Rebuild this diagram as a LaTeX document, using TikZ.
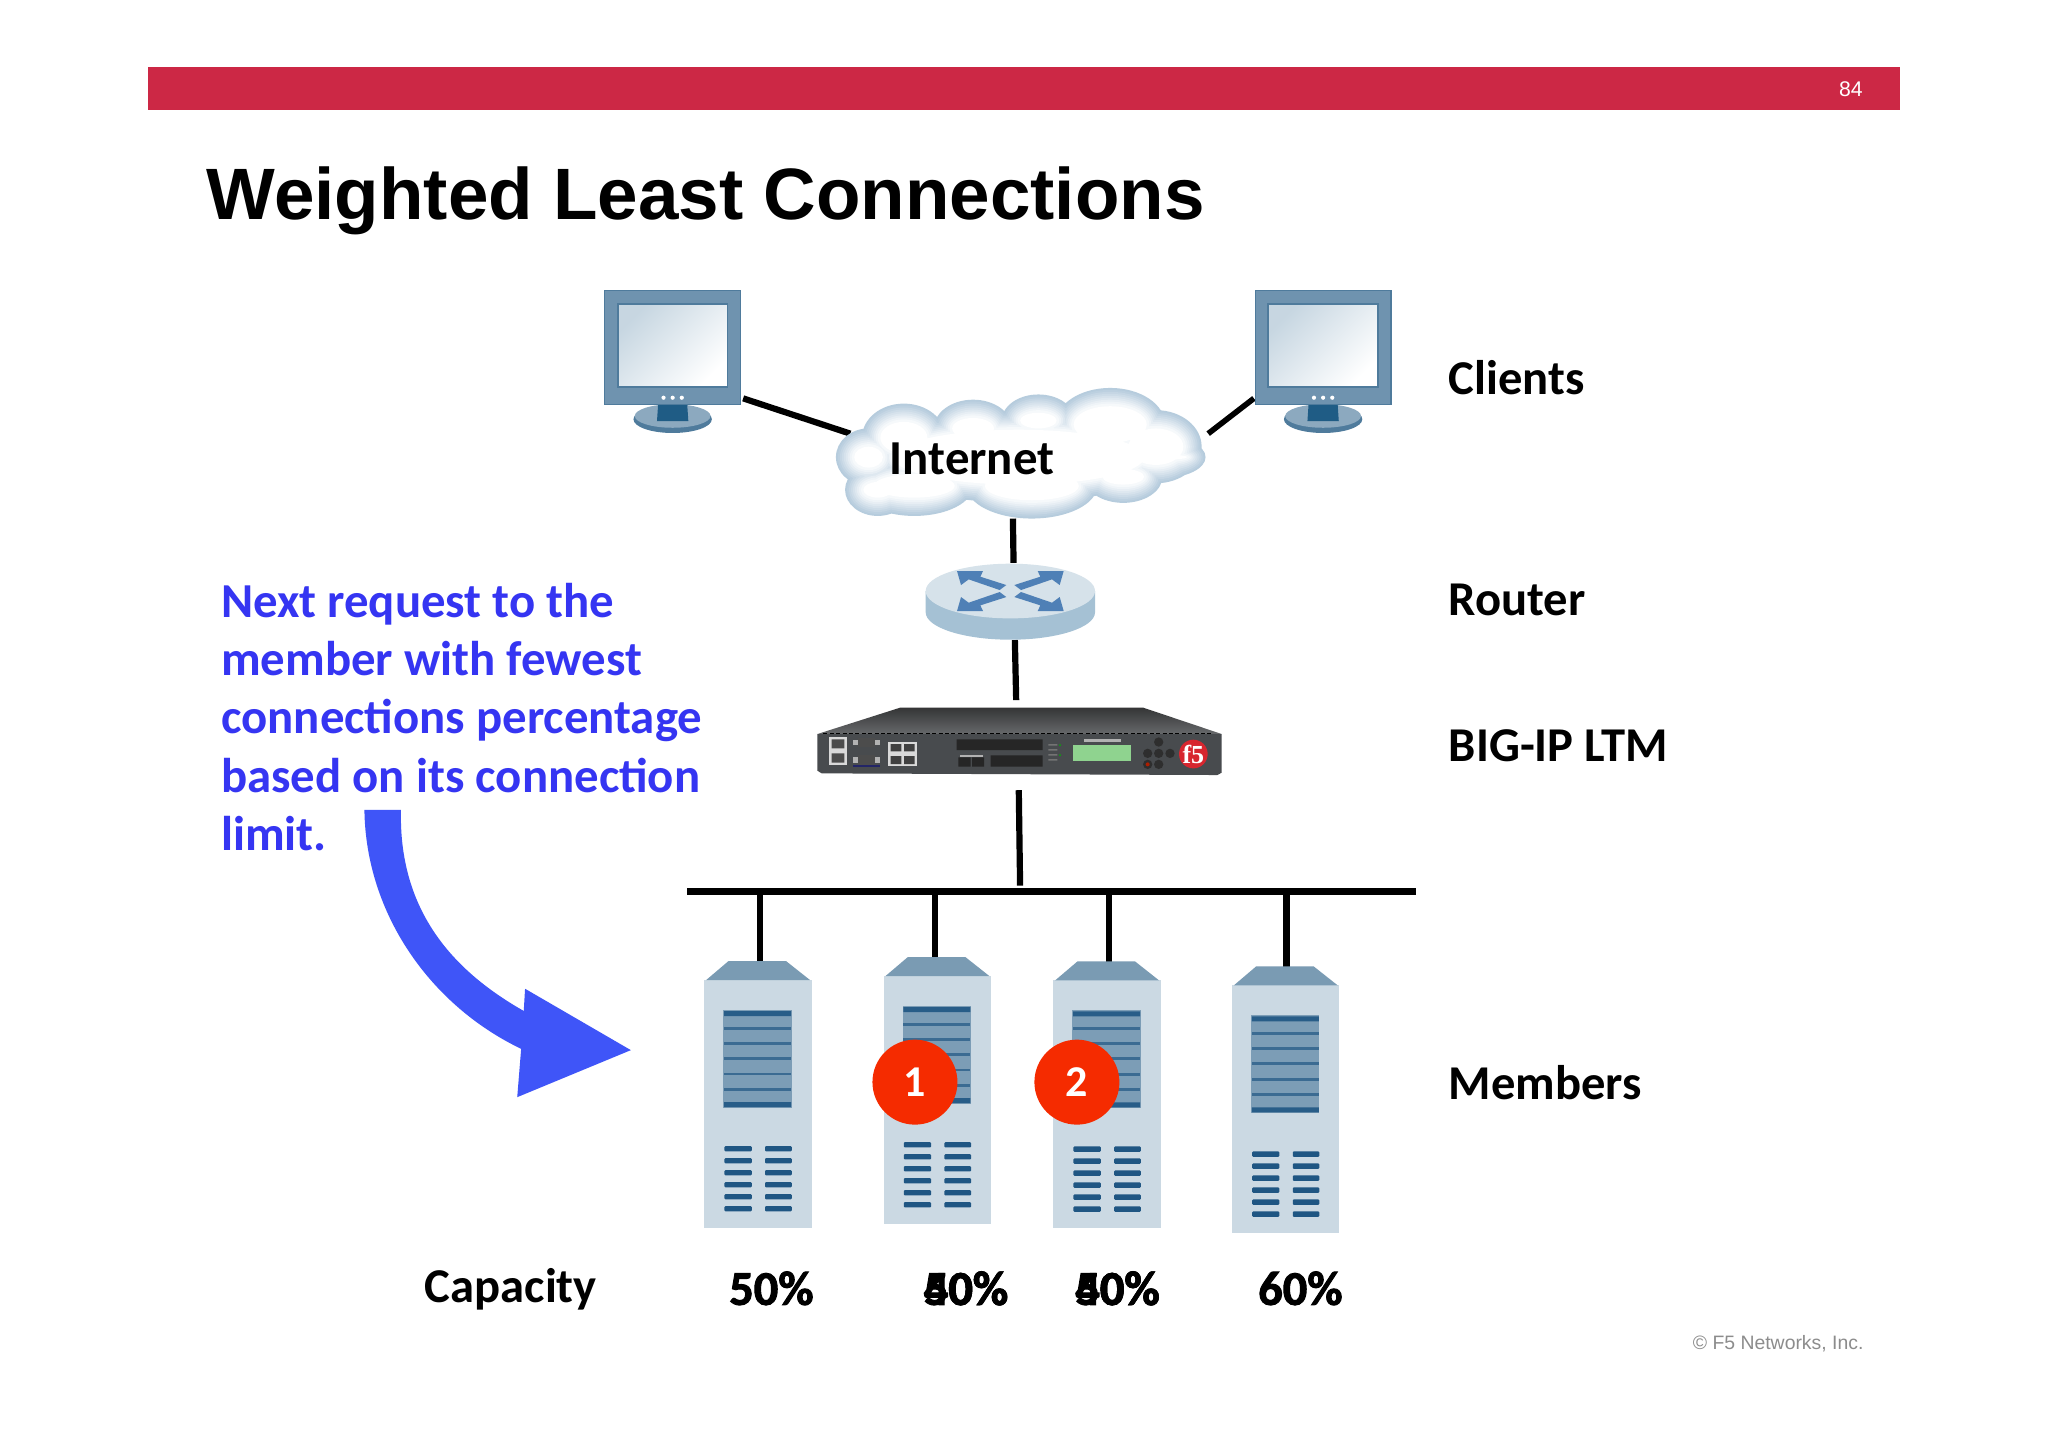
\documentclass[tikz,border=0pt]{standalone}
\usepackage{fontspec}
\setmainfont{Carlito}
\newfontfamily\arialfont{Liberation Sans}
\newfontfamily\logofont{Liberation Serif}
\newfontfamily\pctfont[BoldFeatures={FakeBold=2}]{Carlito}
\usetikzlibrary{shadings}
\definecolor{barred}{HTML}{CC2845}
\definecolor{bluetxt}{HTML}{3535F2}
\definecolor{bluearrow}{HTML}{3F55F8}
\definecolor{badge}{HTML}{F52B00}
\definecolor{srvbody}{HTML}{CBD9E3}
\definecolor{srvroof}{HTML}{7A9BB3}
\definecolor{srvpanel}{HTML}{7C9DB6}
\definecolor{srvdark}{HTML}{1F5683}
\definecolor{monframe}{HTML}{6F93AF}
\definecolor{monedge}{HTML}{4F7B9C}
\definecolor{monneck}{HTML}{1F5C85}
\definecolor{rtop}{HTML}{D6E2EA}
\definecolor{rside}{HTML}{A5C1D4}
\definecolor{rarrow}{HTML}{4F80B6}
\definecolor{devtop}{HTML}{5F6163}
\definecolor{devfront}{HTML}{484B4E}
\definecolor{cloudedge}{HTML}{A9C3D7}
\definecolor{lcdgreen}{HTML}{8FD38F}
\definecolor{logored}{HTML}{D7262F}
\tikzset{
  wire/.style={line width=3.1pt,black},
  label/.style={font=\fontsize{24.3}{28}\selectfont\bfseries,anchor=base west,inner sep=0pt},
  pct/.style={font=\pctfont\bfseries\fontsize{24.2}{28}\selectfont,anchor=base west,inner sep=0pt},
  numbadge/.style={circle,fill=badge,text=white,minimum size=42.5pt,inner sep=0pt,font=\fontsize{22}{25}\selectfont\bfseries},
  srvbar/.style={fill=srvdark,rounded corners=0.5pt},
}
\newcommand{\monitorshape}[3]{% x, y, screen-x offset
  \begin{scope}[shift={(#1,#2)}]
    \fill[monedge] (52,98.5) ellipse (30 and 10.5);
    \fill[rtop!45!monedge] (52,96) ellipse (29 and 9);
    \fill[monneck] (41,85) -- (63,85) -- (64,100) -- (40,100) -- cycle;
    \fill[monframe,draw=monedge,line width=0.7pt] (0,0) rectangle (104,87);
    \shade[shading=axis,left color=rtop!85!monframe,right color=white,shading angle=45,draw=monedge,line width=0.9pt] (#3,10) rectangle (#3+84,74);
    \fill[white] (45,82) circle (1.6) (52,82) circle (1.6) (59,82) circle (1.6);
  \end{scope}}
\newcommand{\serverico}[2]{% zoom-space offset
  \begin{scope}[shift={(520.7,712.1)},scale=0.2552,shift={(#1,#2)}]
    \fill[srvbody] (73,150) rectangle (395,893);
    \fill[srvroof] (78,150) -- (145,93) -- (318,93) -- (390,150) -- cycle;
    \fill[srvpanel] (130,240) rectangle (335,533);
    \fill[srvdark!90!srvpanel] (132,243) rectangle (333,258) (132,516) rectangle (333,531);
    \foreach \yy in {295,340,385,432,478} \fill[srvdark!70!srvpanel] (132,\yy-4) rectangle (333,\yy+4);
    \foreach \yy in {656,692,728,764,800,836} {
      \fill[srvbar] (133,\yy-8) rectangle (215,\yy+8);
      \fill[srvbar] (255,\yy-8) rectangle (335,\yy+8);
    }
  \end{scope}}
\newcommand{\cloudlayer}[2]{% inset, colour
  \fill[#2]
    (692,335) ellipse ({32-#1} and {26-#1})
    (745,328) ellipse ({30-#1} and {22-#1})
    (795,322) ellipse ({28-#1} and {20-#1})
    (850,325) ellipse ({42-#1} and {28-#1})
    (885,342) ellipse ({35-#1} and {28-#1})
    (890,350) ellipse ({33-#1} and {16-#1})
    (860,365) ellipse ({30-#1} and {20-#1})
    (790,372) ellipse ({50-#1} and {25-#1})
    (700,372) ellipse ({45-#1} and {23-#1})
    (665,350) ellipse ({25-#1} and {22-#1})
    (672,375) ellipse ({25-#1} and {20-#1})
    (780,350) ellipse ({110-#1} and {35-#1});}
\begin{document}
\begin{tikzpicture}[x=0.65306pt,y=-0.65306pt]
\useasboundingbox (0,0) rectangle (1568,1108);
\fill[white] (0,0) rectangle (1568,1108);
% header
\fill[barred] (113,51) rectangle (1455,84.5);
\node[font=\arialfont\fontsize{10.6}{13}\selectfont,text=white,inner sep=0pt] (pageno) at (1417,68.5) {84};
\node[font=\arialfont\bfseries\fontsize{36.4}{40}\selectfont,anchor=base west,inner sep=0pt] (title) at (158,168) {Weighted Least Connections};
\node[font=\arialfont\fontsize{9.7}{12}\selectfont,text=black!45,anchor=base east,inner sep=0pt] (copy) at (1427,1033) {© F5 Networks, Inc.};
% connector ends
\coordinate (clientA) at (569,305); \coordinate (cloudA) at (651,332);
\coordinate (clientB) at (960,305); \coordinate (cloudB) at (925,332);
\coordinate (cloudS) at (775.5,397); \coordinate (routerN) at (776,431);
\coordinate (routerS) at (777,490); \coordinate (ltmN) at (778,536);
\coordinate (ltmS) at (780,605); \coordinate (busJ) at (781,678);
\coordinate (busW) at (526,682.5); \coordinate (busE) at (1084,682.5);
\coordinate (d1a) at (582,685); \coordinate (d1b) at (582,736);
\coordinate (d2a) at (716,685); \coordinate (d2b) at (716,733);
\coordinate (d3a) at (849,685); \coordinate (d3b) at (849,737);
\coordinate (d4a) at (985,685); \coordinate (d4b) at (985,740);
\draw[wire] (clientA) -- (cloudA);
\draw[wire,line width=2.8pt] (clientB) -- (cloudB);
\draw[wire] (cloudS) -- (routerN);
\draw[wire] (routerS) -- (ltmN);
\draw[wire] (ltmS) -- (busJ);
\draw[wire] (busW) -- (busE);
\draw[wire] (d1a) -- (d1b);
\draw[wire] (d2a) -- (d2b);
\draw[wire] (d3a) -- (d3b);
\draw[wire] (d4a) -- (d4b);
% monitors
\monitorshape{463}{222.5}{10}
\monitorshape{961}{222.5}{10}
% cloud
\cloudlayer{0}{cloudedge!85!white}
\cloudlayer{1.5}{cloudedge!78!white}
\cloudlayer{3}{cloudedge!68!white}
\cloudlayer{4.5}{cloudedge!58!white}
\cloudlayer{6}{cloudedge!48!white}
\cloudlayer{7.5}{cloudedge!38!white}
\cloudlayer{9}{cloudedge!28!white}
\cloudlayer{10.5}{cloudedge!18!white}
\cloudlayer{12}{cloudedge!10!white}
\cloudlayer{14}{white}
\node[font=\fontsize{24.4}{28}\selectfont\bfseries,anchor=base west,inner sep=0pt] (internet) at (681,363) {Internet};
% router
\begin{scope}[shift={(597.2,405.8)},scale=0.2552]
  \fill[rside] (437,183) -- (437,247) arc[start angle=180,end angle=0,x radius=254,y radius=82] -- (945,183) -- cycle;
  \fill[rtop] (691,183) ellipse (254 and 82);
  \begin{scope}[shift={(691,183)}]
    \foreach \sx/\sy in {1/1,-1/1,1/-1,-1/-1}
      \fill[rarrow,xscale=\sx,yscale=\sy] (-160,-60) -- (-82,-60) -- (-90,-43) -- (-12,-18) -- (-32,-3) -- (-125,-35) -- (-148,-18) -- cycle;
  \end{scope}
\end{scope}
% BIG-IP LTM
\begin{scope}[shift={(597.2,405.8)},scale=0.2552]
  \shade[top color=devtop!55!black,bottom color=devtop!95!white] (112,612) -- (360,533) -- (1090,533) -- (1325,612) -- cycle;
  \fill[devfront] (112,612) -- (1325,612) -- (1325,728) -- (1312,735) -- (125,730) -- (112,722) -- cycle;
  \draw[black,line width=0.5pt,dash pattern=on 2pt off 1.2pt] (130,611) -- (1300,611);
  % jacks
  \fill[white!85!black] (148,622) rectangle (200,705);
  \fill[black!70] (155,628) rectangle (193,655) (155,670) rectangle (193,698);
  % serial ports
  \foreach \yy in {637,690} {
    \fill[black!30] (218,\yy-8) rectangle (300,\yy+8);
    \fill[black!70] (235,\yy-14) rectangle (285,\yy+14);
  }
  \fill[blue!50!black,opacity=.5] (220,706) rectangle (300,712);
  % quad ports
  \fill[white!85!black] (325,635) rectangle (410,708);
  \fill[black!75] (332,642) rectangle (364,664) (372,642) rectangle (404,664) (332,678) rectangle (364,702) (372,678) rectangle (404,702);
  % grilles
  \fill[black!85] (530,628) rectangle (788,660) (632,676) rectangle (788,710);
  \fill[black!85] (535,682) rectangle (572,710) (576,682) rectangle (612,710);
  \fill[black!30] (540,676) rectangle (608,681);
  % LEDs
  \fill[green!70!black] (840,645) circle (3) (840,675) circle (3);
  \fill[black!55] (805,642) rectangle (832,647) (805,657) rectangle (832,662) (805,672) rectangle (832,677) (805,687) rectangle (832,692);
  % LCD
  \fill[black!30] (912,628) rectangle (1024,636);
  \fill[lcdgreen] (880,645) rectangle (1053,692);
  % keypad
  \foreach \kx/\ky in {1136/636,1103/670,1136/670,1170/670,1103/703,1136/703}
    \fill[black!82] (\kx,\ky) circle (14);
  \fill[badge!70!black] (1103,703) circle (6);
  % logo
  \fill[logored] (1240,672) circle (43);
  \node[font=\logofont\bfseries\fontsize{13}{14}\selectfont,text=white,inner sep=0pt] (f5logo) at (1240,672) {f5};
\end{scope}
% servers
\serverico{0}{0}
\serverico{538}{-12}
\serverico{1047}{1}
\serverico{1583}{16}
% badges
\node[numbadge] (badgeOne) at (700.5,828.5) {1};
\node[numbadge] (badgeTwo) at (824.5,828.5) {2};
% labels
\node[label] (lblClients) at (1109,302) {Clients};
\node[label] (lblRouter) at (1109,471) {Router};
\node[label] (lblLtm) at (1109,583) {BIG-IP LTM};
\node[label] (lblMembers) at (1109,842) {Members};
\node[label] (lblCapacity) at (325,997) {Capacity};
\node[pct] (p1) at (558,999) {50\%};
\node[pct] (p2a) at (707,999) {50\%};
\node[pct] (p2b) at (707,999) {40\%};
\node[pct] (p3a) at (823,999) {50\%};
\node[pct] (p3b) at (823,999) {40\%};
\node[pct] (p4) at (963,999) {60\%};
% blue text
\node[text=bluetxt,font=\fontsize{24.4}{29.2}\selectfont\bfseries,align=left,anchor=north west,inner sep=0pt] (note) at (169,446) {Next request to the\\member with fewest\\connections percentage\\based on its connection\\limit.};
% arrow
\fill[bluearrow] (279,620) .. controls (280,700) and (330,770) .. (399,803) -- (396,840) -- (483,804) -- (402,757) -- (401,774) .. controls (350,745) and (305,700) .. (307,620) -- cycle;
\end{tikzpicture}
\end{document}
